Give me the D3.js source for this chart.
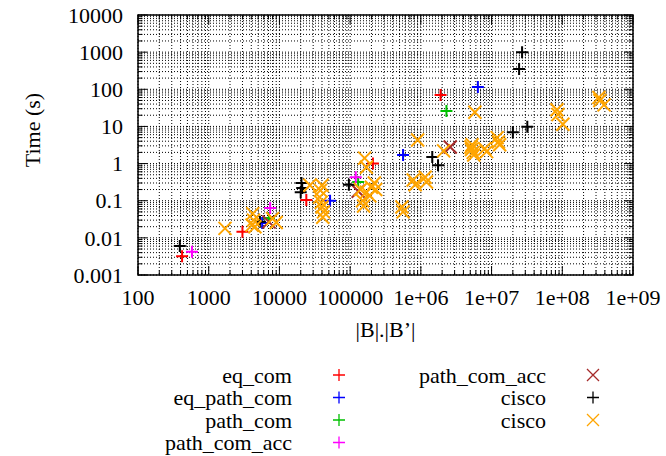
<!DOCTYPE html>
<html>
<head>
<meta charset="utf-8">
<script src="https://cdnjs.cloudflare.com/ajax/libs/d3/7.8.5/d3.min.js"></script>
<style>
  body { margin: 0; background: #fff; }
  text { font-family: "Liberation Serif", "DejaVu Serif", serif; fill: #000; }
</style>
</head>
<body>
<script>
// data: [|B|.|B'|, time in s]
var eqCom      = [[420, 0.0032], [3000, 0.0145], [24000, 0.105], [210000, 1.0], [1.9e6, 70]];
var eqPathCom  = [[5700, 0.025], [52000, 0.1], [560000, 1.7], [6.4e6, 115]];
var pathCom    = [[7100, 0.034], [130000, 0.32], [2.3e6, 26]];
var pathComAcc = [[580, 0.0042], [7400, 0.064], [120000, 0.43]];
var pathComAccX = [[7100, 0.027], [130000, 0.18], [2.6e6, 2.8]];
var ciscoPlus  = [[390, 0.006], [5300, 0.027], [20500, 0.3], [21000, 0.22], [20000, 0.17],
                  [96000, 0.27], [1.45e6, 1.5], [1.75e6, 0.9], [2e7, 7], [3.2e7, 9.8],
                  [2.7e7, 1000], [2.45e7, 350]];
var ciscoX     = [[1700, 0.018], [4200, 0.045], [4100, 0.022], [4300, 0.03], [4500, 0.02],
                  [8000, 0.033], [9000, 0.026],
                  [27000, 0.26], [40000, 0.26], [37000, 0.125], [38000, 0.19], [39000, 0.09],
                  [40000, 0.068], [42000, 0.05], [41000, 0.036],
                  [160000, 1.4], [170000, 0.8], [150000, 0.1], [170000, 0.17], [200000, 0.23],
                  [220000, 0.3], [190000, 0.135], [155000, 0.072], [230000, 0.2], [140000, 0.2],
                  [540000, 0.068], [560000, 0.05],
                  [780000, 0.36], [830000, 0.27], [1.15e6, 0.43], [1.2e6, 0.32], [900000, 4.3],
                  [2.1e6, 2.2],
                  [5.8e6, 24], [5.1e6, 2.8], [5.5e6, 2.0], [5.3e6, 3.2], [5.6e6, 1.7], [5.2e6, 2.4],
                  [8e6, 2.5], [8.5e6, 2.1], [1.2e7, 5], [1.3e7, 3.2], [1.25e7, 3.8],
                  [8.4e7, 28], [8.7e7, 21], [1.02e8, 11.5],
                  [3.3e8, 60], [3.4e8, 50], [3.9e8, 38]];

var xTicks = [100, 1000, 10000, 100000, 1e6, 1e7, 1e8, 1e9];
var xTickLabels = ["100", "1000", "10000", "100000", "1e+06", "1e+07", "1e+08", "1e+09"];
var yTicks = [0.001, 0.01, 0.1, 1, 10, 100, 1000, 10000];
var yTickLabels = ["0.001", "0.01", "0.1", "1", "10", "100", "1000", "10000"];

var series = [
  {name: "eq_com",       data: eqCom,       color: "#ff0000", shape: "plus"},
  {name: "eq_path_com",  data: eqPathCom,   color: "#0000ff", shape: "plus"},
  {name: "path_com",     data: pathCom,     color: "#00c000", shape: "plus"},
  {name: "path_com_acc", data: pathComAcc,  color: "#ff00ff", shape: "plus"},
  {name: "path_com_acc", data: pathComAccX, color: "#a52a2a", shape: "cross"},
  {name: "cisco",        data: ciscoPlus,   color: "#000000", shape: "plus"},
  {name: "cisco",        data: ciscoX,      color: "#ffa500", shape: "cross"}
];

var W = 666, H = 456;
var margin = {top: 15, right: 33, bottom: 181, left: 138};
var width = W - margin.left - margin.right,
    height = H - margin.top - margin.bottom;
var fontSize = "22px";

var x = d3.scaleLog().domain([100, 1e9]).range([0, width]);
var y = d3.scaleLog().domain([0.001, 10000]).range([height, 0]);

var svg = d3.select("body").append("svg")
    .attr("width", W)
    .attr("height", H);

var g = svg.append("g")
    .attr("transform", "translate(" + margin.left + "," + margin.top + ")");

// all minor + major positions
function logPositions(lo, hi) {
  var out = [];
  for (var e = Math.log10(lo); e < Math.log10(hi); e++) {
    for (var m = 1; m < 10; m++) out.push(m * Math.pow(10, e));
  }
  out.push(hi);
  return out;
}
var xAll = logPositions(100, 1e9);
var yAll = logPositions(0.001, 10000);

// dotted grid on every tic
g.append("g").selectAll("line").data(xAll).enter().append("line")
    .attr("x1", function(d) { return x(d); }).attr("x2", function(d) { return x(d); })
    .attr("y1", 0).attr("y2", height)
    .attr("stroke", "#000").attr("stroke-width", 1).attr("stroke-dasharray", "1,2");
g.append("g").selectAll("line").data(yAll).enter().append("line")
    .attr("y1", function(d) { return y(d); }).attr("y2", function(d) { return y(d); })
    .attr("x1", 0).attr("x2", width)
    .attr("stroke", "#000").attr("stroke-width", 1).attr("stroke-dasharray", "1,2");

// tics on all four sides, pointing inward
function isMajor(d) { return Math.abs(Math.log10(d) - Math.round(Math.log10(d))) < 1e-9; }
var tics = g.append("g").attr("stroke", "#000").attr("stroke-width", 1);
xAll.forEach(function(d) {
  var len = isMajor(d) ? 9 : 4.5;
  tics.append("line").attr("x1", x(d)).attr("x2", x(d)).attr("y1", height).attr("y2", height - len);
  tics.append("line").attr("x1", x(d)).attr("x2", x(d)).attr("y1", 0).attr("y2", len);
});
yAll.forEach(function(d) {
  var len = isMajor(d) ? 9 : 4.5;
  tics.append("line").attr("y1", y(d)).attr("y2", y(d)).attr("x1", 0).attr("x2", len);
  tics.append("line").attr("y1", y(d)).attr("y2", y(d)).attr("x1", width).attr("x2", width - len);
});

// border
g.append("rect")
    .attr("width", width).attr("height", height)
    .attr("fill", "none").attr("stroke", "#000").attr("stroke-width", 1.5);

// tick labels
g.append("g").selectAll("text").data(xTicks).enter().append("text")
    .attr("x", function(d) { return x(d); })
    .attr("y", height + 30)
    .attr("text-anchor", "middle")
    .style("font-size", fontSize)
    .text(function(d, i) { return xTickLabels[i]; });
g.append("g").selectAll("text").data(yTicks).enter().append("text")
    .attr("x", -15)
    .attr("y", function(d) { return y(d); })
    .attr("dy", "0.35em")
    .attr("text-anchor", "end")
    .style("font-size", fontSize)
    .text(function(d, i) { return yTickLabels[i]; });

// axis titles
g.append("text")
    .attr("x", width / 2).attr("y", height + 62)
    .attr("text-anchor", "middle")
    .style("font-size", fontSize)
    .text("|B|.|B\u2019|");
g.append("text")
    .attr("transform", "rotate(-90)")
    .attr("x", -height / 2 + 15).attr("y", 32 - margin.left)
    .attr("dy", "0.35em")
    .attr("text-anchor", "middle")
    .style("font-size", fontSize)
    .text("Time (s)");

// point symbols
function marker(sel, shape, r) {
  if (shape === "plus") return sel.attr("d", "M" + (-r) + ",0H" + r + "M0," + (-r) + "V" + r);
  return sel.attr("d", "M" + (-r) + "," + (-r) + "L" + r + "," + r + "M" + (-r) + "," + r + "L" + r + "," + (-r));
}

series.forEach(function(s) {
  var pts = g.append("g").selectAll("path").data(s.data).enter().append("path")
      .attr("transform", function(d) { return "translate(" + x(d[0]) + "," + y(d[1]) + ")"; })
      .attr("fill", "none")
      .attr("stroke", s.color)
      .attr("stroke-width", 2);
  marker(pts, s.shape, s.shape === "plus" ? 6 : 6.5);
});

// legend, two columns
var legend = svg.append("g");
series.forEach(function(s, i) {
  var col = i < 4 ? 0 : 1, row = i < 4 ? i : i - 4;
  var tx = col === 0 ? 292 : 546, mx = col === 0 ? 339 : 593;
  var ly = 375 + row * 22.5;
  legend.append("text")
      .attr("x", tx).attr("y", ly).attr("dy", "0.35em")
      .attr("text-anchor", "end")
      .style("font-size", fontSize)
      .text(s.name);
  var m = legend.append("path")
      .attr("transform", "translate(" + mx + "," + ly + ")")
      .attr("fill", "none").attr("stroke", s.color).attr("stroke-width", 1.3);
  marker(m, s.shape, 6);
});
</script>
</body>
</html>
